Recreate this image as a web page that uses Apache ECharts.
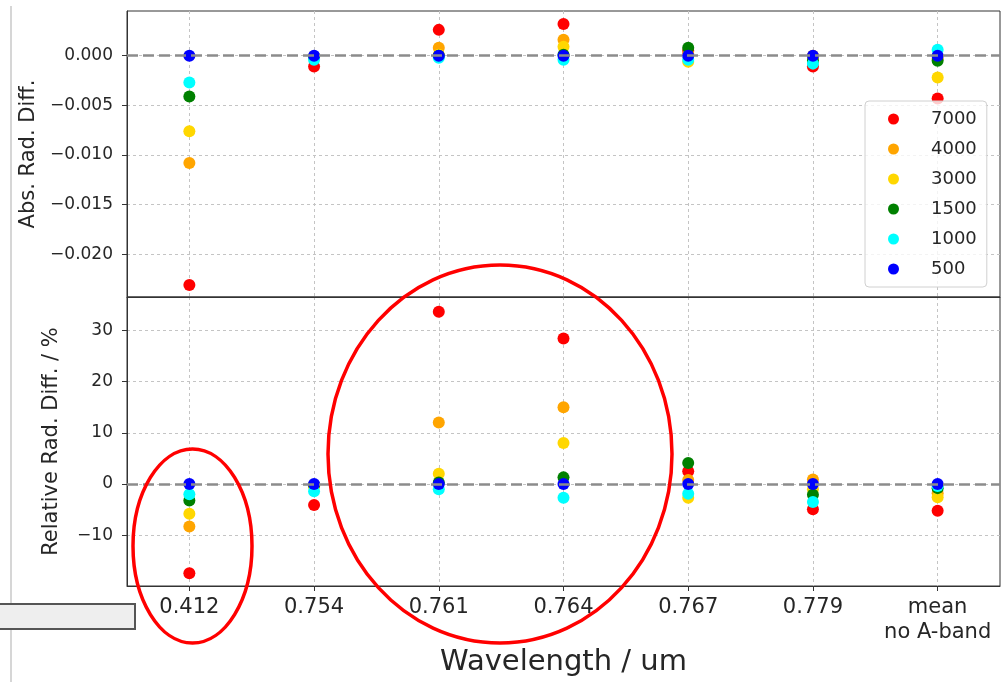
<!DOCTYPE html>
<html><head><meta charset="utf-8">
<script src="https://cdn.jsdelivr.net/npm/echarts@6/dist/echarts.min.js"></script>
<style>html,body{margin:0;padding:0;background:#fff}#c{width:1004px;height:682px}</style>
</head><body><div id="c"></div>
<script>
// ---- data ----
const categories = ['0.412', '0.754', '0.761', '0.764', '0.767', '0.779', 'mean\nno A-band'];
const seriesNames = ['7000', '4000', '3000', '1500', '1000', '500'];

// Absolute radiance difference (top panel)
const abs7000 = [-0.0231, -0.0011, 0.0026, 0.0032, 0.0005, -0.0011, -0.0043];
const abs4000 = [-0.0108, -0.0001, 0.0008, 0.0016, 0.0002, 0.0000, -0.0003];
const abs3000 = [-0.0076, -0.0002, 0.0001, 0.0009, -0.0006, -0.0003, -0.0022];
const abs1500 = [-0.0041, -0.0001, 0.0000, 0.0001, 0.0008, -0.0005, -0.0005];
const abs1000 = [-0.0027, -0.0004, -0.0002, -0.0004, -0.0004, -0.0008, 0.0006];
const abs500  = [0.0000, 0.0000, 0.0000, 0.0000, 0.0000, 0.0000, 0.0000];

// Relative radiance difference in % (bottom panel)
const rel7000 = [-17.4, -4.1, 33.6, 28.4, 2.5, -4.9, -5.2];
const rel4000 = [-8.3, -0.3, 12.0, 15.0, 0.8, 0.9, -1.8];
const rel3000 = [-5.8, -0.5, 2.0, 8.0, -2.7, -1.0, -2.6];
const rel1500 = [-3.2, -0.2, 0.3, 1.3, 4.1, -2.1, -0.8];
const rel1000 = [-2.0, -1.4, -1.0, -2.7, -1.9, -3.5, -0.4];
const rel500  = [0.0, 0.0, 0.0, 0.0, 0.0, 0.0, 0.0];

const absTickLabels = [0.000, -0.005, -0.010, -0.015, -0.020];
const relTickLabels = [30, 20, 10, 0, -10];

// ---- styles ----
const colors = ['#ff0000', '#ffa500', '#ffd700', '#008000', '#00ffff', '#0000ff'];
const FONT = 'DejaVu Sans';
const absData = [abs7000, abs4000, abs3000, abs1500, abs1000, abs500];
const relData = [rel7000, rel4000, rel3000, rel1500, rel1000, rel500];

const gridDash = { color: '#c4c4c4', type: [3, 3], width: 1 };
const zeroLine = {
  silent: true, symbol: 'none', z: 5,
  label: { show: false },
  lineStyle: { color: '#8c8c8c', type: [11, 5], width: 2.5 },
  data: [{ yAxis: 0 }]
};

function near(v, list, tol) { return list.some(t => Math.abs(t - v) < tol); }
function fmtAbs(v) {
  if (!near(v, absTickLabels, 1e-7)) return '';
  const s = Math.abs(v).toFixed(3);
  return (v < -1e-9 ? '\u2212' : '') + s;
}
function fmtRel(v) {
  if (!near(v, relTickLabels, 1e-6)) return '';
  return (v < 0 ? '\u2212' : '') + Math.abs(Math.round(v));
}

const series = [];
seriesNames.forEach((n, i) => {
  series.push({
    name: n, type: 'scatter', xAxisIndex: 0, yAxisIndex: 0,
    symbol: 'circle', symbolSize: 12,
    itemStyle: { color: colors[i], opacity: 1 },
    data: absData[i],
    markLine: i === 0 ? zeroLine : undefined
  });
});
seriesNames.forEach((n, i) => {
  series.push({
    name: n, type: 'scatter', xAxisIndex: 1, yAxisIndex: 1,
    symbol: 'circle', symbolSize: 12,
    itemStyle: { color: colors[i], opacity: 1 },
    data: relData[i],
    markLine: i === 0 ? zeroLine : undefined
  });
});

const chart = echarts.init(document.getElementById('c'), null, { renderer: 'canvas' });
chart.setOption({
  animation: false,
  backgroundColor: '#ffffff',
  textStyle: { fontFamily: FONT },
  grid: [
    { left: 127, right: 4, top: 11, height: 286, show: true, borderColor: '#333', borderWidth: 1, backgroundColor: 'transparent', containLabel: false },
    { left: 127, right: 4, top: 297, bottom: 96, show: true, borderColor: '#333', borderWidth: 1, backgroundColor: 'transparent', containLabel: false }
  ],
  xAxis: [
    {
      gridIndex: 0, type: 'category', data: categories, boundaryGap: true,
      axisLine: { show: true, onZero: false, lineStyle: { color: '#333', width: 1 } },
      axisTick: { show: false },
      axisLabel: { show: false },
      splitLine: { show: true, alignWithLabel: true, lineStyle: gridDash }
    },
    {
      gridIndex: 1, type: 'category', data: categories, boundaryGap: true,
      name: 'Wavelength / um', nameLocation: 'middle', nameGap: 62,
      nameTextStyle: { fontFamily: FONT, fontSize: 29, color: '#262626' },
      axisLine: { show: true, onZero: false, lineStyle: { color: '#333', width: 1 } },
      axisTick: { show: true, alignWithLabel: true, length: 5, lineStyle: { color: '#333' } },
      axisLabel: { show: true, interval: 0, fontFamily: FONT, fontSize: 21, color: '#262626', margin: 9, lineHeight: 25 },
      splitLine: { show: true, alignWithLabel: true, lineStyle: gridDash }
    }
  ],
  yAxis: [
    {
      gridIndex: 0, type: 'value', min: -0.0243, max: 0.0045, splitNumber: 5,
      name: 'Abs. Rad. Diff.', nameLocation: 'middle', nameGap: 86,
      nameTextStyle: { fontFamily: FONT, fontSize: 21, color: '#262626' },
      axisLine: { show: true, onZero: false, lineStyle: { color: '#333' } },
      axisTick: { show: true, length: 5, lineStyle: { color: '#333' } },
      axisLabel: { formatter: fmtAbs, fontFamily: FONT, fontSize: 17, color: '#262626', margin: 14, showMinLabel: false, showMaxLabel: false },
      splitLine: { show: true, showMinLine: false, showMaxLine: false, lineStyle: gridDash }
    },
    {
      gridIndex: 1, type: 'value', min: -19.9, max: 36.5, splitNumber: 5,
      name: 'Relative Rad. Diff. / %', nameLocation: 'middle', nameGap: 65,
      nameTextStyle: { fontFamily: FONT, fontSize: 21, color: '#262626' },
      axisLine: { show: true, onZero: false, lineStyle: { color: '#333' } },
      axisTick: { show: true, length: 5, lineStyle: { color: '#333' } },
      axisLabel: { formatter: fmtRel, fontFamily: FONT, fontSize: 17, color: '#262626', margin: 14, showMinLabel: false, showMaxLabel: false },
      splitLine: { show: true, showMinLine: false, showMaxLine: false, lineStyle: gridDash }
    }
  ],
  legend: {
    data: seriesNames, orient: 'vertical', left: 865, top: 101,
    padding: [8, 10, 8, 23], itemGap: 10, itemWidth: 11, itemHeight: 11,
    icon: 'circle',
    backgroundColor: 'rgba(255,255,255,0.8)', borderColor: '#d0d0d0', borderWidth: 1, borderRadius: 4,
    textStyle: { fontFamily: FONT, fontSize: 18, color: '#262626', lineHeight: 20, padding: [0, 0, 0, 27] }
  },
  series: series,
  graphic: [
    { type: 'line', z: 90, shape: { x1: 11, y1: 6, x2: 11, y2: 682 }, style: { stroke: '#c8c8c8', lineWidth: 1.5 } },
    { type: 'rect', z: 91, shape: { x: -2, y: 604, width: 137, height: 25 }, style: { fill: '#eeeeee', stroke: '#555555', lineWidth: 2 } },
    { type: 'ellipse', z: 100, shape: { cx: 192.5, cy: 546, rx: 59.5, ry: 97 }, style: { fill: 'transparent', stroke: '#ff0000', lineWidth: 3.5 } },
    { type: 'ellipse', z: 100, shape: { cx: 500, cy: 454, rx: 172, ry: 189 }, style: { fill: 'transparent', stroke: '#ff0000', lineWidth: 3.5 } }
  ]
});
</script>
</body></html>
